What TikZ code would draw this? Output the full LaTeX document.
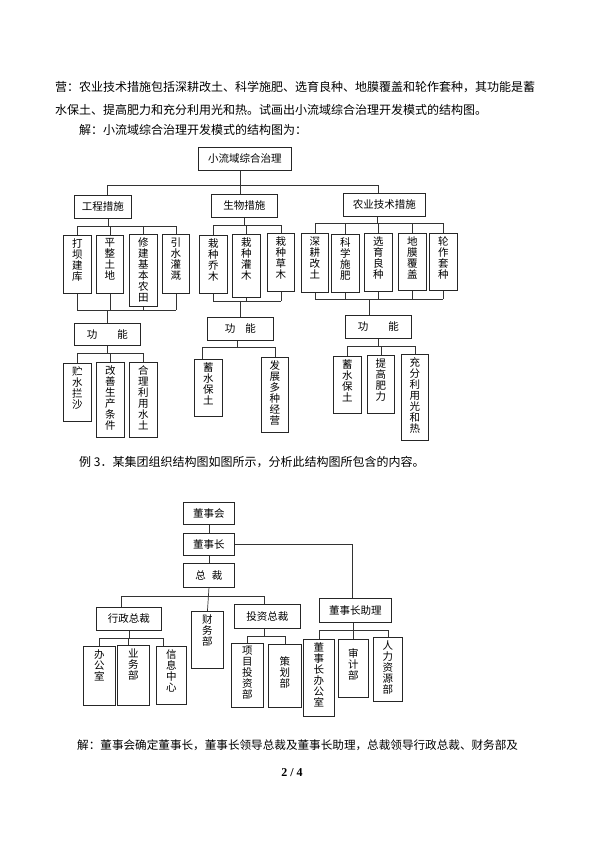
\documentclass[tikz,border=0pt]{standalone}
\usepackage{fontspec}
\newfontfamily\cjk{Noto Sans CJK SC}
\newfontfamily\serifb{Liberation Serif}
\newcommand\VB[6]{\node[vbox] (#1) at (#2,#3) {\parbox[t][\dimexpr#5pt-#3pt\relax][t]{\dimexpr#4pt-#2pt\relax}{\centering\vspace*{3pt}#6\par}};}
\newcommand\HB[6]{\node[hbox,minimum width={#4pt-#2pt},minimum height={#5pt-#3pt}] (#1) at (#2,#3) {#6};}
\begin{document}
\begin{tikzpicture}[x=1pt,y=-1pt,
  hbox/.style={draw=black!85,line width=0.9pt,inner sep=0pt,anchor=north west,font=\cjk\fontsize{10.5}{12}\selectfont,align=center},
  vbox/.style={draw=black!85,line width=0.9pt,inner sep=0pt,anchor=north west,font=\cjk\fontsize{10.5}{11}\selectfont},
  conn/.style={draw=black!80,line width=0.7pt},
  body/.style={anchor=west,inner sep=0pt,font=\cjk\fontsize{12}{14}\selectfont}]
\useasboundingbox[fill=white] (0,0) rectangle (595,841);

% ---------- text ----------
\node[body] (t1) at (55,87) {营：农业技术措施包括深耕改土、科学施肥、选育良种、地膜覆盖和轮作套种，其功能是蓄};
\node[body] (t2) at (55,110) {水保土、提高肥力和充分利用光和热。试画出小流域综合治理开发模式的结构图。};
\node[body] (t3) at (79,130) {解：小流域综合治理开发模式的结构图为：};
\node[body] (t4) at (79,462) {例 3．某集团组织结构图如图所示，分析此结构图所包含的内容。};
\node[body,font=\cjk\fontsize{11.6}{14}\selectfont] (t5) at (77,745) {解：董事会确定董事长，董事长领导总裁及董事长助理，总裁领导行政总裁、财务部及};
\node[font=\serifb\bfseries\fontsize{12}{14}\selectfont,inner sep=0pt] (pg) at (292,773) {2 / 4};

% ---------- chart 1 ----------
\HB{root}{198}{147}{291}{170}{小流域综合治理}
\HB{gc}{74}{195}{131}{218}{工程措施}
\HB{sw}{211}{194}{277}{217}{生物措施}
\HB{ny}{343}{193}{425}{216}{农业技术措施}

\VB{g1}{63}{235}{91}{293}{打\\坝\\建\\库}
\VB{g2}{96}{235}{123}{293}{平\\整\\土\\地}
\VB{g3}{129}{234}{157}{306}{修\\建\\基\\本\\农\\田}
\VB{g4}{162}{234}{189}{293}{引\\水\\灌\\溉}
\HB{gf}{74}{323}{140}{345}{功\hspace{20pt}能}
\VB{gf1}{63}{363}{91}{421}{贮\\水\\拦\\沙}
\VB{gf2}{96}{362}{124}{437}{改\\善\\生\\产\\条\\件}
\VB{gf3}{129}{362}{157}{437}{合\\理\\利\\用\\水\\土}

\VB{s1}{199}{235}{227}{293}{栽\\种\\乔\\木}
\VB{s2}{232}{234}{260}{297}{栽\\种\\灌\\木}
\VB{s3}{267}{233}{294}{291}{栽\\种\\草\\木}
\HB{sf}{207}{317}{273}{340}{功\hspace{10pt}能}
\VB{sf1}{194}{359}{222}{416}{蓄\\水\\保\\土}
\VB{sf2}{261}{357}{288}{432}{发\\展\\多\\种\\经\\营}

\VB{n1}{301}{233}{328}{292}{深\\耕\\改\\土}
\VB{n2}{331}{234}{359}{292}{科\\学\\施\\肥}
\VB{n3}{364}{233}{392}{291}{选\\育\\良\\种}
\VB{n4}{398}{233}{426}{290}{地\\膜\\覆\\盖}
\VB{n5}{429}{233}{457}{290}{轮\\作\\套\\种}
\HB{nf}{345}{315}{411}{338}{功\hspace{20pt}能}
\VB{nf1}{333}{356}{361}{413}{蓄\\水\\保\\土}
\VB{nf2}{367}{355}{394}{413}{提\\高\\肥\\力}
\VB{nf3}{401}{354}{428}{440}{充\\分\\利\\用\\光\\和\\热}

% bus coordinates chart 1
\coordinate (bA) at (0,185);
\coordinate (bG) at (0,226);
\coordinate (bGb) at (0,310);
\coordinate (bGf) at (0,353);
\coordinate (bS) at (0,225);
\coordinate (bSb) at (0,301);
\coordinate (bSf) at (0,347);
\coordinate (bN) at (0,223);
\coordinate (bNb) at (0,299);
\coordinate (bNf) at (0,346);

% level 1
\draw[conn] ([xshift=-4.5pt]root.south) -- ([xshift=-4pt]sw.north);
\draw[conn] ([xshift=4.5pt]gc.north) -- ([xshift=4.5pt]gc.north |- bA) -- ([xshift=-6pt]ny.north |- bA) -- ([xshift=-6pt]ny.north);

% engineering
\draw[conn] ([xshift=5.5pt]gc.south) -- ([xshift=5.5pt]gc.south |- bG);
\draw[conn] (g1.north |- bG) -- (g4.north |- bG);
\foreach \c in {g1,g2,g3,g4} \draw[conn] (\c.north) -- (\c.north |- bG);
\foreach \c in {g1,g2,g3,g4} \draw[conn] (\c.south) -- (\c.south |- bGb);
\draw[conn] (g1.south |- bGb) -- (g4.south |- bGb);
\draw[conn] (gf.north) -- (gf.north |- bGb);
\draw[conn] (gf.south) -- (gf.south |- bGf);
\draw[conn] (gf1.north |- bGf) -- (gf3.north |- bGf);
\foreach \c in {gf1,gf2,gf3} \draw[conn] (\c.north) -- (\c.north |- bGf);

% biology
\draw[conn] (sw.south) -- (sw.south |- bS);
\draw[conn] (s1.north |- bS) -- (s3.north |- bS);
\foreach \c in {s1,s2,s3} \draw[conn] (\c.north) -- (\c.north |- bS);
\foreach \c in {s1,s2,s3} \draw[conn] (\c.south) -- (\c.south |- bSb);
\draw[conn] (s1.south |- bSb) -- (s3.south |- bSb);
\draw[conn] (sf.north) -- (sf.north |- bSb);
\draw[conn] ([xshift=-3pt]sf.south) -- ([xshift=-3pt]sf.south |- bSf);
\draw[conn] ([xshift=-6pt]sf1.north |- bSf) -- (sf2.north |- bSf);
\draw[conn] ([xshift=-6pt]sf1.north) -- ([xshift=-6pt]sf1.north |- bSf);
\draw[conn] (sf2.north) -- (sf2.north |- bSf);

% agriculture
\draw[conn] ([xshift=-7pt]ny.south) -- ([xshift=-7pt]ny.south |- bN);
\draw[conn] (n1.north |- bN) -- (n5.north |- bN);
\foreach \c in {n1,n2,n3,n4,n5} \draw[conn] (\c.north) -- (\c.north |- bN);
\foreach \c in {n1,n2,n3,n4,n5} \draw[conn] (\c.south) -- (\c.south |- bNb);
\draw[conn] (n1.south |- bNb) -- (n5.south |- bNb);
\draw[conn] ([xshift=-9pt]nf.north) -- ([xshift=-9pt]nf.north |- bNb);
\draw[conn] (nf.south) -- (nf.south |- bNf);
\draw[conn] (nf1.north |- bNf) -- (nf3.north |- bNf);
\foreach \c in {nf1,nf2,nf3} \draw[conn] (\c.north) -- (\c.north |- bNf);

% ---------- chart 2 ----------
\HB{d1}{183}{502}{234}{524}{董事会}
\HB{d2}{183}{533}{234}{555}{董事长}
\HB{d3}{183}{563}{234}{587}{总\hspace{6pt}裁}
\HB{xz}{96}{607}{161}{630}{行政总裁}
\VB{cw}{191}{611}{223}{668}{财\\务\\部}
\HB{tz}{234}{604}{300}{628}{投资总裁}
\HB{zl}{319}{598}{391}{622}{董事长助理}
\VB{x1}{83}{646}{115}{705}{办\\公\\室}
\VB{x2}{117}{645}{149}{705}{业\\务\\部}
\VB{x3}{156}{646}{186}{704}{信\\息\\中\\心}
\VB{p1}{231}{643}{263}{707}{项\\目\\投\\资\\部}
\node[vbox] (p2) at (268,644) {\parbox[t][63pt][t]{33pt}{\centering\vspace*{12pt}策\\划\\部\par}};
\VB{z1}{303}{639}{334}{716}{董\\事\\长\\办\\公\\室}
\node[vbox] (z2) at (338,639) {\parbox[t][58pt][t]{30pt}{\centering\vspace*{9pt}审\\计\\部\par}};
\VB{z3}{373}{637}{402}{701}{人\\力\\资\\源\\部}

\coordinate (bD) at (0,596);
\coordinate (bX) at (0,638);
\coordinate (bT) at (0,636);
\coordinate (bZ) at (0,630);

\draw[conn] (d1.south) -- (d2.north);
\draw[conn] (d2.south) -- (d3.north);
\draw[conn] (d3.south) -- (cw.north);
\draw[conn] ([xshift=-7.5pt]xz.north) -- ([xshift=-7.5pt]xz.north |- bD) -- ([xshift=-3pt]tz.north |- bD) -- ([xshift=-3pt]tz.north);
\draw[conn] (d2.east) -| ([xshift=-3pt]zl.north);

\draw[conn] (xz.south) -- (xz.south |- bX);
\draw[conn] (x1.north |- bX) -- ([xshift=-8pt]x3.north |- bX);
\draw[conn] (x1.north) -- (x1.north |- bX);
\draw[conn] ([xshift=-5pt]x2.north) -- ([xshift=-5pt]x2.north |- bX);
\draw[conn] ([xshift=-8pt]x3.north) -- ([xshift=-8pt]x3.north |- bX);

\draw[conn] ([xshift=-3pt]tz.south) -- ([xshift=-3pt]tz.south |- bT);
\draw[conn] (p1.north |- bT) -- (p2.north |- bT);
\draw[conn] (p1.north) -- (p1.north |- bT);
\draw[conn] (p2.north) -- (p2.north |- bT);

\draw[conn] ([xshift=-2pt]zl.south) -- ([xshift=-2pt]zl.south |- bZ);
\draw[conn] (z1.north |- bZ) -- (z3.north |- bZ);
\foreach \c in {z1,z2,z3} \draw[conn] (\c.north) -- (\c.north |- bZ);
\end{tikzpicture}
\end{document}
